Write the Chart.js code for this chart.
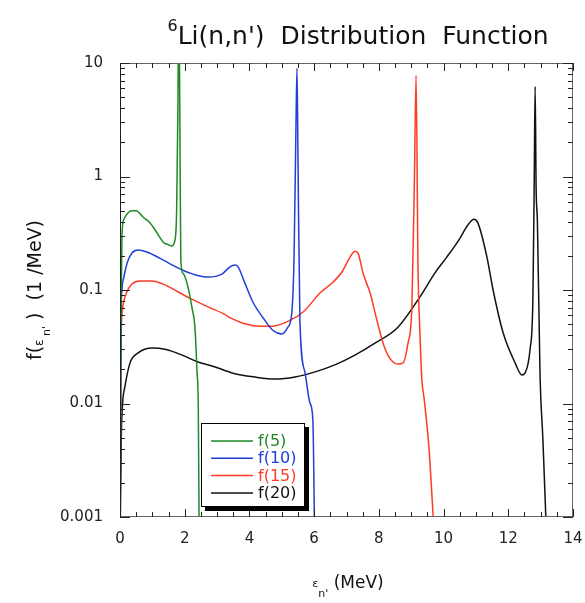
<!DOCTYPE html>
<html>
<head>
<meta charset="utf-8">
<script src="https://cdn.jsdelivr.net/npm/chart.js@4"></script>
<style>
  html, body { margin: 0; padding: 0; background: #fff; }
  canvas { display: block; }
</style>
</head>
<body>
<canvas id="dist" width="585" height="603"></canvas>
<script>
// energies in MeV, distribution values in 1/MeV
const f5E  = [0.00, 0.03, 0.06, 0.12, 0.25, 0.37, 0.50, 0.71, 0.93, 1.14, 1.33, 1.50, 1.61, 1.70, 1.75, 1.79, 1.82, 1.85, 1.88, 1.95, 2.07, 2.22, 2.32, 2.38, 2.42, 2.45];
const f5V  = [0.0005, 0.05, 0.30, 0.42, 0.48, 0.50, 0.50, 0.44, 0.39, 0.32, 0.265, 0.25, 0.244, 0.276, 0.5, 4, 40, 3, 0.18, 0.14, 0.115, 0.071, 0.045, 0.019, 0.009, 0.0005];

const f10E = [0.00, 0.03, 0.06, 0.12, 0.22, 0.37, 0.56, 0.83, 1.24, 1.55, 1.92, 2.26, 2.72, 3.15, 3.40, 3.55, 3.65, 3.86, 4.11, 4.42, 4.73, 5.00, 5.19, 5.31, 5.38, 5.44, 5.47, 5.50, 5.56, 5.72, 5.87, 5.96, 6.02];
const f10V = [0.0005, 0.05, 0.10, 0.13, 0.173, 0.212, 0.225, 0.216, 0.19, 0.17, 0.15, 0.138, 0.13, 0.138, 0.16, 0.166, 0.16, 0.115, 0.078, 0.057, 0.044, 0.041, 0.047, 0.063, 0.2, 3, 9, 1.5, 0.054, 0.0186, 0.0101, 0.0072, 0.0005];

const f15E = [0.00, 0.03, 0.07, 0.12, 0.21, 0.37, 0.62, 0.98, 1.39, 1.80, 2.22, 2.72, 3.24, 3.40, 3.80, 4.33, 4.73, 5.25, 5.66, 6.18, 6.58, 6.86, 7.11, 7.26, 7.36, 7.51, 7.73, 7.94, 8.13, 8.34, 8.59, 8.75, 8.90, 9.02, 9.10, 9.15, 9.21, 9.27, 9.33, 9.40, 9.55, 9.70, 9.75];
const f15V = [0.0005, 0.03, 0.065, 0.08, 0.096, 0.113, 0.12, 0.12, 0.111, 0.096, 0.083, 0.071, 0.061, 0.057, 0.051, 0.048, 0.048, 0.054, 0.064, 0.094, 0.117, 0.144, 0.195, 0.22, 0.21, 0.141, 0.094, 0.054, 0.034, 0.025, 0.0223, 0.0228, 0.034, 0.071, 1.0, 7.8, 0.16, 0.042, 0.016, 0.011, 0.004, 0.0008, 0.0005];

const f20E = [0.00, 0.04, 0.08, 0.15, 0.31, 0.56, 0.99, 1.39, 1.92, 2.41, 2.94, 3.46, 4.17, 4.79, 5.41, 6.03, 6.64, 7.26, 7.88, 8.59, 9.27, 9.73, 10.10, 10.51, 10.75, 10.94, 11.06, 11.34, 11.53, 11.84, 12.21, 12.42, 12.52, 12.67, 12.76, 12.80, 12.83, 12.86, 12.90, 12.98, 13.07, 13.16, 13.20];
const f20V = [0.0005, 0.005, 0.010, 0.014, 0.0228, 0.0279, 0.0308, 0.030, 0.0267, 0.0232, 0.021, 0.0186, 0.0171, 0.0164, 0.0171, 0.019, 0.0219, 0.0267, 0.034, 0.047, 0.087, 0.141, 0.195, 0.287, 0.374, 0.42, 0.39, 0.195, 0.1, 0.042, 0.0228, 0.0178, 0.0186, 0.0296, 0.0817, 0.8, 6.2, 0.8, 0.4, 0.0186, 0.0048, 0.001, 0.0005];

const seriesNames  = ['f(5)', 'f(10)', 'f(15)', 'f(20)'];
const seriesColors = ['#1f8a24', '#1e3fd8', '#ff3b24', '#111111'];

const xTicks = [0, 2, 4, 6, 8, 10, 12, 14];
const yTicks = [0.001, 0.01, 0.1, 1, 10];

const FONT = '"DejaVu Sans", Verdana, sans-serif';

const pairs = (es, vs) => es.map((e, i) => ({ x: e, y: vs[i] }));
const seriesData = [pairs(f5E, f5V), pairs(f10E, f10V), pairs(f15E, f15V), pairs(f20E, f20V)];

// draws a row of text pieces (size, vertical shift) starting at x
function textRuns(ctx, runs, x, y, center) {
  let w = 0;
  runs.forEach(r => { ctx.font = r.size + 'px ' + FONT; w += ctx.measureText(r.text).width; });
  let cx = center ? x - w / 2 : x;
  runs.forEach(r => {
    ctx.font = r.size + 'px ' + FONT;
    ctx.fillText(r.text, cx, y + (r.dy || 0));
    cx += ctx.measureText(r.text).width;
  });
}

const decor = {
  id: 'decor',
  afterDatasetsDraw(chart) {
    const { ctx, chartArea: a, scales: { x, y } } = chart;
    ctx.save();

    // frame
    ctx.lineWidth = 1;
    ctx.strokeStyle = '#666';
    ctx.strokeRect(a.left + 0.5, a.top + 0.5, a.right - a.left - 1, a.bottom - a.top - 1);
    ctx.strokeStyle = '#222';
    ctx.beginPath();
    ctx.moveTo(a.left + 0.5, a.top); ctx.lineTo(a.left + 0.5, a.bottom);
    ctx.stroke();

    // inward ticks on all four sides
    ctx.strokeStyle = '#222';
    ctx.beginPath();
    for (let v = 0; v <= 14.001; v += 0.5) {
      const px = Math.round(x.getPixelForValue(v)) + 0.5;
      const len = (v % 2 === 0) ? 8 : 5;
      ctx.moveTo(px, a.bottom); ctx.lineTo(px, a.bottom - len);
      ctx.moveTo(px, a.top); ctx.lineTo(px, a.top + len);
    }
    for (let d = 0.001; d < 11; d *= 10) {
      for (let k = 1; k <= 9; k++) {
        const v = d * k;
        if (v > 10.001) break;
        const py = Math.round(y.getPixelForValue(v)) + 0.5;
        const len = k === 1 ? 10 : 5;
        ctx.moveTo(a.left, py); ctx.lineTo(a.left + len, py);
        ctx.moveTo(a.right, py); ctx.lineTo(a.right - len, py);
      }
    }
    ctx.stroke();

    // legend box with drop shadow
    const lx = 201, ly = 423, lw = 104, lh = 84;
    ctx.fillStyle = '#000';
    ctx.fillRect(lx + 4, ly + 4, lw, lh);
    ctx.fillStyle = '#fff';
    ctx.fillRect(lx, ly, lw, lh);
    ctx.strokeStyle = '#000';
    ctx.strokeRect(lx + 0.5, ly + 0.5, lw - 1, lh - 1);
    ctx.textBaseline = 'middle';
    ctx.textAlign = 'left';
    chart.data.datasets.forEach((ds, i) => {
      const ry = ly + 18 + i * 17.3;
      ctx.strokeStyle = ds.borderColor;
      ctx.lineWidth = 1.5;
      ctx.beginPath();
      ctx.moveTo(lx + 10, ry); ctx.lineTo(lx + 52, ry);
      ctx.stroke();
      ctx.fillStyle = ds.borderColor;
      ctx.font = '16px ' + FONT;
      ctx.fillText(ds.label, lx + 57, ry + 1);
    });

    // title and axis titles
    ctx.fillStyle = '#111';
    ctx.textBaseline = 'alphabetic';
    textRuns(ctx, [
      { text: '6', size: 16, dy: -13 },
      { text: 'Li(n,n\')  Distribution  Function', size: 25 }
    ], 358, 44, true);

    textRuns(ctx, [
      { text: '\u03b5', size: 11, dy: -1 },
      { text: 'n\'', size: 11, dy: 9 },
      { text: ' (MeV)', size: 17 }
    ], 348, 588, true);

    ctx.translate(35, 290);
    ctx.rotate(-Math.PI / 2);
    textRuns(ctx, [
      { text: 'f(', size: 19 },
      { text: '\u03b5', size: 12, dy: 2 },
      { text: ' n\'', size: 11, dy: 9 },
      { text: ' )  (1 /MeV)', size: 19 }
    ], 0, 6, true);

    ctx.restore();
  }
};

new Chart(document.getElementById('dist'), {
  type: 'line',
  data: {
    datasets: seriesData.map((d, i) => ({
      label: seriesNames[i],
      data: d,
      borderColor: seriesColors[i],
      borderWidth: 1.5,
      pointRadius: 0,
      fill: false,
      cubicInterpolationMode: 'monotone'
    }))
  },
  options: {
    responsive: false,
    animation: false,
    layout: { padding: { top: 63, right: 12, left: 0, bottom: 0 } },
    scales: {
      x: {
        type: 'linear', min: 0, max: 14,
        grid: { display: false, drawTicks: false },
        border: { display: false },
        afterBuildTicks: s => { s.ticks = xTicks.map(v => ({ value: v })); },
        afterFit: s => { s.height = 86; s.paddingLeft = 0; s.paddingRight = 0; },
        ticks: { padding: 13, maxRotation: 0, color: '#222', font: { family: FONT, size: 15 } }
      },
      y: {
        type: 'logarithmic', min: 0.001, max: 10,
        grid: { display: false, drawTicks: false },
        border: { display: false },
        afterBuildTicks: s => { s.ticks = yTicks.map(v => ({ value: v })); },
        afterFit: s => { s.width = 120; s.paddingTop = 0; s.paddingBottom = 0; },
        ticks: {
          padding: 17, color: '#222', font: { family: FONT, size: 15 },
          callback: v => String(v)
        }
      }
    },
    plugins: {
      legend: { display: false },
      title: { display: false },
      tooltip: { enabled: false }
    }
  },
  plugins: [decor]
});
</script>
</body>
</html>
